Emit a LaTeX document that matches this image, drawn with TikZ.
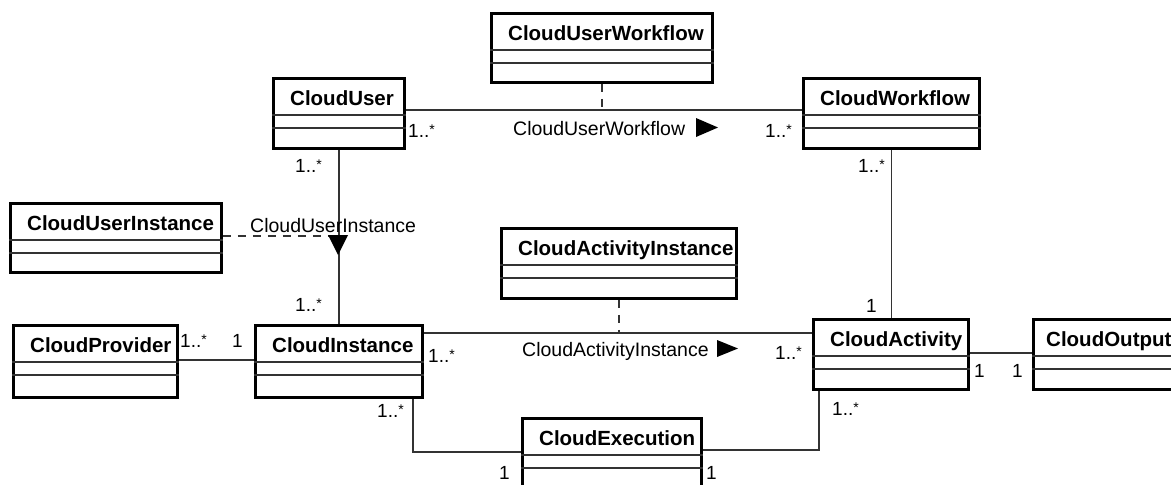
\documentclass[tikz,border=0pt]{standalone}
\usepackage{fontspec}
\setmainfont{Liberation Sans}
\tikzset{
  classbox/.style={draw=black, line width=2.8pt, inner sep=0pt, rectangle},
  classname/.style={inner sep=0pt, font=\fontsize{20.5}{24}\selectfont\bfseries},
  compline/.style={draw=black!80, line width=1.8pt},
  assoc/.style={draw=black!80, line width=1.6pt},
  assocdash/.style={draw=black!80, line width=1.6pt, dash pattern=on 8pt off 7pt},
  multlabel/.style={inner sep=0pt, anchor=base west, font=\fontsize{19}{22}\selectfont},
  assoclabel/.style={inner sep=0pt, anchor=base west, font=\fontsize{19.5}{22}\selectfont},
}
% small raised star of the "many" multiplicity
\newcommand\mstar{\raisebox{3pt}{\fontsize{14}{14}\selectfont *}}
% a UML class: [title indent], node name, left, top, right, bottom, title
\newcommand\umlclass[7][18]{%
  \node[classbox, anchor=north west, minimum width={#5-#3}, minimum height={#6-#4}] (#2) at (#3,#4) {};
  \node[classname, anchor=base west] (#2-name) at (#3+#1,#4+28) {#7};
  \draw[compline] ([yshift=-38pt]#2.north west) -- ([yshift=-38pt]#2.north east);
  \draw[compline] ([yshift=-51pt]#2.north west) -- ([yshift=-51pt]#2.north east);
}
\begin{document}
\begin{tikzpicture}[x=1pt,y=-1pt]
\useasboundingbox[fill=white] (0,0) rectangle (1171,485);

% classes
\umlclass{cuw}{490}{12}{711}{81}{CloudUserWorkflow}
\umlclass{cu}{272}{77}{403}{147}{CloudUser}
\umlclass{cw}{802}{77}{978}{147}{CloudWorkflow}
\umlclass{cui}{9}{202}{220}{271}{CloudUserInstance}
\umlclass{cai}{500}{227}{735}{297}{CloudActivityInstance}
\umlclass{cp}{12}{324}{176}{396}{CloudProvider}
\umlclass{ci}{254}{324}{421}{396}{CloudInstance}
\umlclass{ca}{812}{318}{967}{388}{CloudActivity}
\umlclass[14]{co}{1032}{318}{1195}{388}{CloudOutput}
\umlclass{ce}{521}{417}{700}{500}{CloudExecution}

% associations
\draw[assoc] (cu.east |- 0,110) -- (cw.west |- 0,110);
\draw[assoc] (cu.south) -- (ci.north);
\draw[assoc] (cw.south) -- (cw.south |- ca.north);
\draw[assoc] (cp.east |- 0,360) -- (ci.west |- 0,360);
\draw[assoc] (ci.east |- 0,333) -- (ca.west |- 0,333);
\draw[assoc] (ca.east |- 0,353) -- (co.west |- 0,353);
\draw[assoc] (ci.south -| 413,0) |- (ce.west |- 0,452);
\draw[assoc] (ce.east |- 0,450) -| (ca.south -| 819,0);

% association classes
\draw[assocdash] (cuw.south) -- (cuw.south |- 0,110);
\draw[assocdash] (cui.east |- 0,236) -- (cu.south |- 0,236);
\draw[assocdash] (cai.south) -- (cai.south |- 0,333);

% association names with reading direction
\node[assoclabel] (lcuw) at (513,135) {CloudUserWorkflow};
\fill (696,118) -- (718,127.5) -- (696,137) -- cycle;
\node[assoclabel] (lcui) at (250,232) {CloudUserInstance};
\fill (328,235) -- (348,235) -- (338,255) -- cycle;
\node[assoclabel] (lcai) at (522,356) {CloudActivityInstance};
\fill (717,340) -- (738,348.5) -- (717,357) -- cycle;

% multiplicities
\node[multlabel] (m1) at (408,137) {1..\mstar};
\node[multlabel] (m2) at (765,137) {1..\mstar};
\node[multlabel] (m3) at (295,172) {1..\mstar};
\node[multlabel] (m4) at (858,172) {1..\mstar};
\node[multlabel] (m5) at (295,311) {1..\mstar};
\node[multlabel] (m6) at (180,347) {1..\mstar};
\node[multlabel] (m7) at (232,347) {1};
\node[multlabel] (m8) at (428,362) {1..\mstar};
\node[multlabel] (m9) at (775,359) {1..\mstar};
\node[multlabel] (m10) at (866,312) {1};
\node[multlabel] (m11) at (974,377) {1};
\node[multlabel] (m12) at (1012,377) {1};
\node[multlabel] (m13) at (377,417) {1..\mstar};
\node[multlabel] (m14) at (832,415) {1..\mstar};
\node[multlabel] (m15) at (499,479) {1};
\node[multlabel] (m16) at (706,479) {1};
\end{tikzpicture}
\end{document}
